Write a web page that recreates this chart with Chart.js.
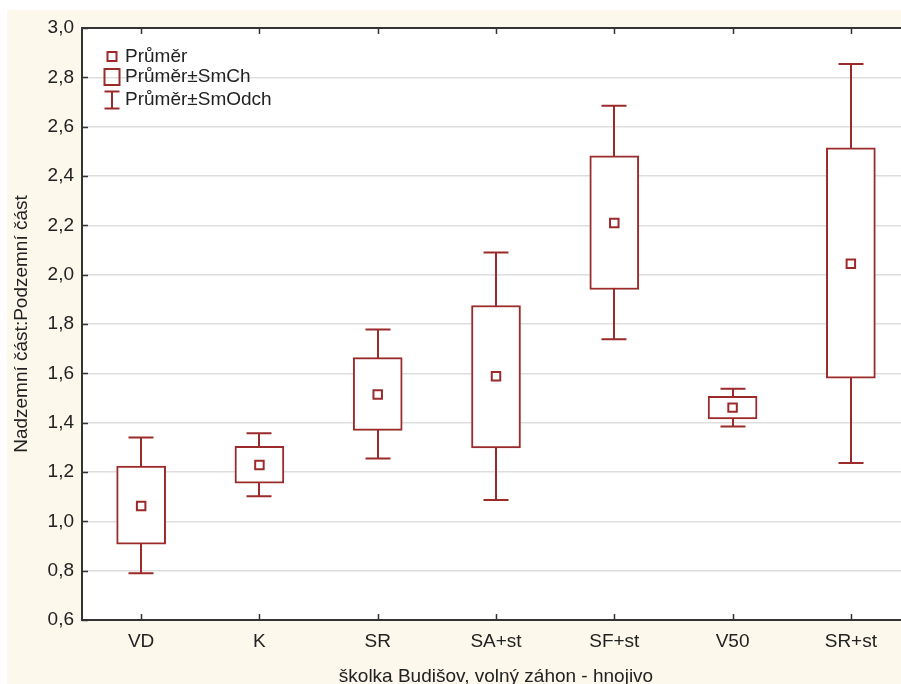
<!DOCTYPE html>
<html>
<head>
<meta charset="utf-8">
<script src="https://cdn.jsdelivr.net/npm/chart.js@4"></script>
<style>
  html, body { margin: 0; padding: 0; overflow: hidden; background: #ffffff; }
  canvas { display: block; }
</style>
</head>
<body>
<canvas id="boxChart" width="920" height="700"></canvas>
<script>
var categories = ["VD", "K", "SR", "SA+st", "SF+st", "V50", "SR+st"];
var means = [1.062, 1.228, 1.514, 1.588, 2.209, 1.461, 2.044];
var seLow = [0.907, 1.155, 1.369, 1.298, 1.940, 1.415, 1.580];
var seHigh = [1.224, 1.304, 1.664, 1.875, 2.482, 1.507, 2.514];
var sdLow = [0.790, 1.102, 1.255, 1.086, 1.738, 1.384, 1.236];
var sdHigh = [1.340, 1.357, 1.778, 2.090, 2.685, 1.537, 2.854];
var yTicks = [0.6, 0.8, 1.0, 1.2, 1.4, 1.6, 1.8, 2.0, 2.2, 2.4, 2.6, 2.8, 3.0];
var legendLabels = ["Průměr", "Průměr±SmCh", "Průměr±SmOdch"];

var red = "#9b2b2b";
var axisColor = "#333333";
var textColor = "#222222";
var font = "'Liberation Sans', Arial, sans-serif";

var boxData = categories.map((c, i) => [seLow[i], seHigh[i]]);

// cream page background behind everything
const background = {
  id: "background",
  beforeDraw(chart) {
    const ctx = chart.ctx;
    ctx.save();
    ctx.fillStyle = "#ffffff";
    ctx.fillRect(0, 0, chart.width, chart.height);
    ctx.fillStyle = "#fdf8ec";
    ctx.fillRect(7, 10, chart.width - 7, chart.height - 10);
    const a = chart.chartArea;
    ctx.fillStyle = "#ffffff";
    ctx.fillRect(a.left, a.top, a.right - a.left, a.bottom - a.top);
    ctx.restore();
  },
};

// mean +- SD whiskers, drawn under the boxes
const whiskers = {
  id: "whiskers",
  beforeDatasetsDraw(chart) {
    const ctx = chart.ctx;
    const x = chart.scales.x;
    const y = chart.scales.y;
    ctx.save();
    ctx.strokeStyle = red;
    ctx.lineWidth = 2;
    categories.forEach((c, i) => {
      const px = Math.round(x.getPixelForValue(i));
      const top = y.getPixelForValue(sdHigh[i]);
      const bottom = y.getPixelForValue(sdLow[i]);
      ctx.beginPath();
      ctx.moveTo(px, top);
      ctx.lineTo(px, bottom);
      ctx.moveTo(px - 12.5, top);
      ctx.lineTo(px + 12.5, top);
      ctx.moveTo(px - 12.5, bottom);
      ctx.lineTo(px + 12.5, bottom);
      ctx.stroke();
    });
    ctx.restore();
  },
};

// frame, inward ticks and legend
const frame = {
  id: "frame",
  afterDraw(chart) {
    const ctx = chart.ctx;
    const a = chart.chartArea;
    const x = chart.scales.x;
    const y = chart.scales.y;
    ctx.save();
    ctx.strokeStyle = axisColor;
    ctx.lineWidth = 2;
    ctx.beginPath();
    ctx.moveTo(a.left, a.top);
    ctx.lineTo(a.right + 5, a.top);
    ctx.stroke();

    ctx.lineWidth = 1.5;
    ctx.beginPath();
    yTicks.forEach((v) => {
      const py = Math.round(y.getPixelForValue(v)) + 0.5;
      ctx.moveTo(a.left, py);
      ctx.lineTo(a.left + 6, py);
    });
    categories.forEach((c, i) => {
      const px = Math.round(x.getPixelForValue(i)) + 0.5;
      ctx.moveTo(px, a.bottom);
      ctx.lineTo(px, a.bottom - 6);
      ctx.moveTo(px, a.top);
      ctx.lineTo(px, a.top + 6);
    });
    ctx.stroke();

    // legend
    const lx = a.left + 30;
    const rows = [a.top + 28.5, a.top + 49, a.top + 72];
    ctx.strokeStyle = red;
    ctx.lineWidth = 2;
    ctx.strokeRect(lx - 4.5, rows[0] - 4.5, 9, 9);
    ctx.strokeRect(lx - 7.5, rows[1] - 8, 15, 16);
    ctx.beginPath();
    ctx.moveTo(lx - 7.5, rows[2] - 8.5);
    ctx.lineTo(lx + 7.5, rows[2] - 8.5);
    ctx.moveTo(lx, rows[2] - 8.5);
    ctx.lineTo(lx, rows[2] + 8.5);
    ctx.moveTo(lx - 7.5, rows[2] + 8.5);
    ctx.lineTo(lx + 7.5, rows[2] + 8.5);
    ctx.stroke();
    ctx.fillStyle = textColor;
    ctx.font = "19px " + font;
    ctx.textBaseline = "middle";
    legendLabels.forEach((t, i) => ctx.fillText(t, a.left + 43, rows[i]));
    ctx.restore();
  },
};

new Chart("boxChart", {
  type: "bar",
  data: {
    labels: categories,
    datasets: [
      {
        type: "line",
        label: legendLabels[0],
        data: means,
        showLine: false,
        pointStyle: "rect",
        pointRadius: 6,
        pointBackgroundColor: "#ffffff",
        pointBorderColor: red,
        pointBorderWidth: 2,
        order: 0,
      },
      {
        label: legendLabels[1],
        data: boxData,
        backgroundColor: "#ffffff",
        borderColor: red,
        borderWidth: 2,
        borderSkipped: false,
        barThickness: 49,
        order: 1,
      },
    ],
  },
  options: {
    responsive: false,
    animation: false,
    events: [],
    layout: { padding: { top: 28, right: 10, left: 7, bottom: 0 } },
    plugins: {
      legend: { display: false },
      tooltip: { enabled: false },
    },
    scales: {
      x: {
        afterFit: (scale) => { scale.height = 80; },
        grid: { display: false, drawTicks: false },
        border: { display: true, color: axisColor, width: 2 },
        ticks: { color: textColor, font: { family: font, size: 19 }, padding: 10 },
        title: {
          display: true,
          text: "školka Budišov, volný záhon - hnojivo",
          color: textColor,
          font: { family: font, size: 19 },
          padding: { top: 0, bottom: 12 },
        },
      },
      y: {
        min: 0.6,
        max: 3.0,
        afterFit: (scale) => { scale.width = 75; },
        afterBuildTicks: (scale) => { scale.ticks = yTicks.map((v) => ({ value: v })); },
        grid: { color: "#dedede", lineWidth: 1.5, drawTicks: false },
        border: { display: true, color: axisColor, width: 2 },
        ticks: {
          color: textColor,
          font: { family: font, size: 19 },
          padding: 8,
          callback: (v) => v.toFixed(1).replace(".", ","),
        },
        title: {
          display: true,
          text: "Nadzemní část:Podzemní část",
          color: textColor,
          font: { family: font, size: 19 },
          padding: { top: 3, bottom: 0 },
        },
      },
    },
  },
  plugins: [background, whiskers, frame],
});
</script>
</body>
</html>
